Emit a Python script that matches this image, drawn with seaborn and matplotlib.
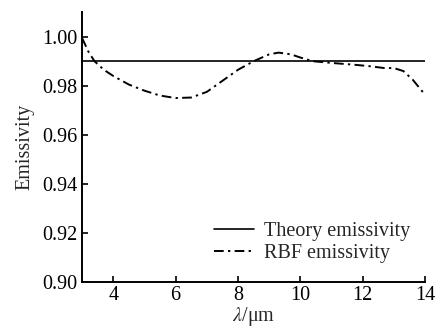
import numpy as np
import pandas as pd
import seaborn as sns
import matplotlib
matplotlib.use('Agg')
import matplotlib.pyplot as plt

# wavelength (um) and emissivity
wavelength = [3.0, 3.2, 3.4, 3.7, 4.0, 4.5, 5.0, 5.5, 6.0, 6.5, 7.0, 7.5, 8.0, 8.5,
              9.0, 9.3, 9.7, 10.0, 10.4, 11.0, 11.7, 12.2, 12.7, 13.0, 13.3, 13.6, 14.0]
rbf_emis = [0.9995, 0.994, 0.990, 0.9865, 0.984, 0.9805, 0.978, 0.976, 0.975, 0.9752,
            0.9775, 0.982, 0.9865, 0.9900, 0.9928, 0.9935, 0.9928, 0.9915, 0.9900,
            0.9893, 0.9886, 0.9880, 0.9872, 0.9872, 0.9860, 0.9825, 0.9763]
theory_x = [3.0, 14.0]
theory_emis = [0.99, 0.99]

sns.set_style('ticks')
plt.rcParams['font.family'] = ['Liberation Serif', 'DejaVu Serif']
plt.rcParams['mathtext.fontset'] = 'stix'

fs = 14.5
fig = plt.figure(figsize=(4.41, 3.28), dpi=100)
ax = fig.add_axes([0.186, 0.140, 0.778, 0.823])

sns.lineplot(x=theory_x, y=theory_emis, ax=ax, color='black', lw=1.2,
             label='Theory emissivity')
sns.lineplot(x=wavelength, y=rbf_emis, ax=ax, color='black', lw=1.4,
             label='RBF emissivity')
ax.lines[1].set_linestyle((0, (5, 2.2, 1.2, 2.2)))

ax.set_xlim(3, 14)
ax.set_ylim(0.90, 1.01)
ax.set_xticks([4, 6, 8, 10, 12, 14])
ax.set_yticks([0.90, 0.92, 0.94, 0.96, 0.98, 1.00])
ax.set_yticklabels(['0.90', '0.92', '0.94', '0.96', '0.98', '1.00'])
sns.despine(ax=ax)
for s in ['left', 'bottom']:
    ax.spines[s].set_linewidth(1.4)
    ax.spines[s].set_color('black')
ax.tick_params(direction='in', length=4, width=1.2, labelsize=fs, colors='black', pad=3)

ax.set_xlabel(r'$\lambda$/μm', fontsize=fs, labelpad=0)
ax.set_ylabel('Emissivity', fontsize=fs, labelpad=6)

ax.legend(loc='lower right', frameon=False, fontsize=fs, handlelength=2.0,
          handletextpad=0.5, labelspacing=0.1, bbox_to_anchor=(1.01, 0.005))

fig.savefig('out.png', dpi=100)
